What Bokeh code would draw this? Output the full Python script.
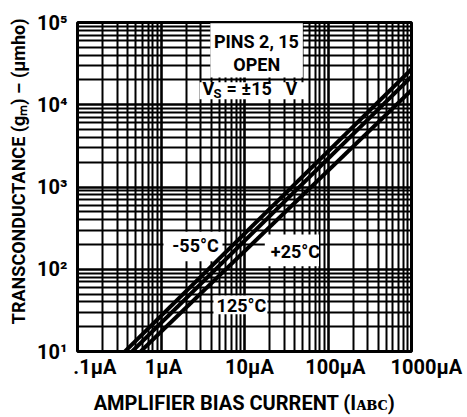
from bokeh.plotting import figure
from bokeh.models import FixedTicker, Grid, Label, BoxAnnotation, Range1d
from bokeh.embed import file_html
from bokeh.resources import INLINE

# ---------------- data ----------------
temps = ["-55°C", "+25°C", "125°C"]
bias_at_gm10 = [0.37, 0.45, 0.57]        # µA at which gm = 10 µmho
gm_at_1000 = [27000, 22000, 15000]        # µmho at 1000 µA
bias_end = 1000
gm_start = 10

x_ticks = [0.1, 1, 10, 100, 1000]
x_tick_labels = [".1µA", "1µA", "10µA", "100µA", "1000µA"]
x_label_pad = [7, 1, 2, 3, 6]             # leading spaces, as offset in the original
y_ticks = [10, 100, 1000, 10000, 100000]
y_tick_labels = ["10¹", "10²", "10³", "10⁴", "10⁵"]

FONT = "Roboto"
NBSP = "\u00a0"

p = figure(width=467, height=417, x_axis_type="log", y_axis_type="log",
           x_range=Range1d(x_ticks[0], x_ticks[-1]),
           y_range=Range1d(y_ticks[0], y_ticks[-1]),
           output_backend="svg", toolbar_location=None,
           min_border_left=77, min_border_right=56,
           min_border_top=22, min_border_bottom=60)

# grid: decades + 2..9 subdivisions
minor_x = [m * t for t in x_ticks[:-1] for m in range(2, 10)]
minor_y = [m * t for t in y_ticks[:-1] for m in range(2, 10)]
p.xgrid.ticker = FixedTicker(ticks=x_ticks)
p.ygrid.ticker = FixedTicker(ticks=y_ticks)
for g in (p.xgrid[0], p.ygrid[0]):
    g.grid_line_color = "black"
    g.grid_line_width = 2.6
    g.grid_line_alpha = 1
p.add_layout(Grid(dimension=0, ticker=FixedTicker(ticks=minor_x),
                  grid_line_color="black", grid_line_width=2))
p.add_layout(Grid(dimension=1, ticker=FixedTicker(ticks=minor_y),
                  grid_line_color="black", grid_line_width=2))

p.outline_line_color = "black"
p.outline_line_width = 3
p.background_fill_color = "white"
p.border_fill_color = "white"

# axes
for ax in (p.xaxis[0], p.yaxis[0]):
    ax.axis_line_color = None
    ax.major_tick_line_color = None
    ax.minor_tick_line_color = None
    ax.major_tick_out = 0
    ax.minor_tick_out = 0
    ax.major_label_text_font = FONT
    ax.major_label_text_font_style = "bold"
    ax.major_label_text_color = "black"
    ax.axis_label_text_font = FONT
    ax.axis_label_text_font_style = "bold"
    ax.axis_label_text_color = "black"
    ax.axis_label_text_font_size = "18px"

p.xaxis.ticker = FixedTicker(ticks=x_ticks)
p.xaxis.major_label_overrides = {t: NBSP * n + l for t, l, n in
                                 zip(x_ticks, x_tick_labels, x_label_pad)}
p.xaxis.major_label_standoff = 3
p.xaxis.major_label_text_font_size = "20px"
p.xaxis.axis_label = "AMPLIFIER BIAS CURRENT (Iᴀʙᴄ)"
p.xaxis.axis_label_text_font_size = "20px"
p.xaxis.axis_label_standoff = 9

p.yaxis.ticker = FixedTicker(ticks=y_ticks)
p.yaxis.major_label_overrides = {t: l for t, l in zip(y_ticks, y_tick_labels)}
p.yaxis.major_label_standoff = 10
p.yaxis.major_label_text_font_size = "20px"
p.yaxis.axis_label = NBSP * 7 + "TRANSCONDUCTANCE (gₘ) – (µmho)"
p.yaxis.axis_label_standoff = 5

# white label boxes (underlay, above grid, below curves)
def wbox(l, r, b, t):
    p.add_layout(BoxAnnotation(left=l, right=r, bottom=b, top=t,
                               fill_color="white", fill_alpha=1,
                               line_color=None, level="underlay"))

wbox(3.9, 50, 21500, 98000)      # PINS 2, 15 / OPEN
wbox(2.9, 55, 11700, 18800)      # Vs = ±15 V
wbox(1.07, 5.45, 125, 286)       # -55°C
wbox(17.5, 78, 109, 264)         # +25°C
wbox(4.25, 18.8, 28.4, 48)       # 125°C

# curves
for i in range(len(temps)):
    p.line([bias_at_gm10[i], bias_end], [gm_start, gm_at_1000[i]],
           line_color="black", line_width=4)

def txt(x, y, s, size="18px", align="center", **kw):
    p.add_layout(Label(x=x, y=y, text=s, text_font=FONT, text_font_style="bold",
                       text_font_size=size, text_align=align,
                       text_baseline="middle", text_color="black", **kw))

txt(13.9, 59300, "PINS 2, 15")
txt(14, 30700, "OPEN")
txt(3.14, 15800, "V", align="left")
txt(3.14, 15800, "S", size="13px", align="left", x_offset=11, y_offset=-5)
txt(3.14, 15800, "=", align="left", x_offset=24)
txt(3.14, 15800, "±15", align="left", x_offset=39)
txt(3.14, 15800, "V", align="left", x_offset=83)
txt(2.59, 195, temps[0])
txt(40.8, 165, temps[1])
txt(9.2, 36.4, temps[2])

open("out.html", "w").write(file_html(p, INLINE))
